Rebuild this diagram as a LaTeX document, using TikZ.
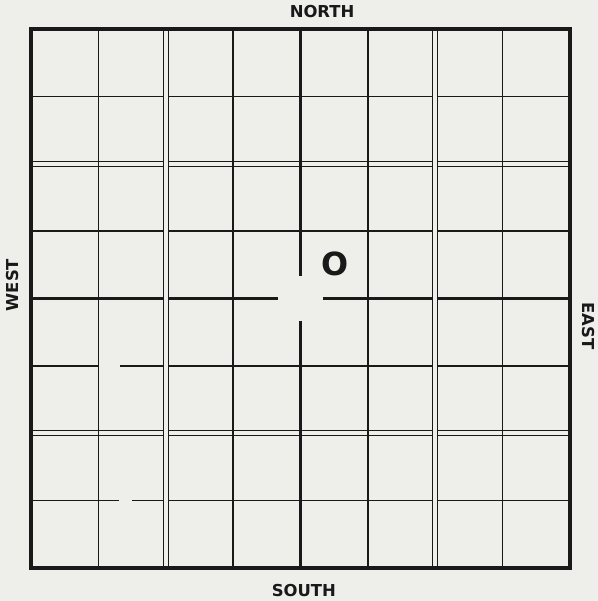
\documentclass[tikz,border=0pt]{standalone}
\usepackage{fontspec}
\newfontfamily\compassfont{DejaVu Sans}
\usepackage{tikz}
\definecolor{paper}{RGB}{238,238,235}
\definecolor{ink}{RGB}{25,25,25}

\begin{document}
\begin{tikzpicture}[x=67.4bp,y=67.4bp,
  grid/.style={ink, line width=1.35pt},
  heavy/.style={ink, line width=2.6pt},
  rim/.style={ink, line width=3.8pt},
  compass/.style={font=\compassfont\bfseries\fontsize{16.5}{18}\selectfont,
    text=ink, inner sep=0pt}]
\def\dd{0.037}
\def\gap{0.34}
% paper and margins
\fill[paper] (-0.46,-0.49) rectangle (8.415,8.43);
\useasboundingbox (-0.46,-0.49) rectangle (8.415,8.43);
%
% horizontal lines, two of them broken near the west edge
\draw[grid] (0,7) -- (8,7);
\draw[grid] (0,5) -- (8,5);
\draw[grid] (0,3) -- (1,3) (1.32,3) -- (8,3);
\draw[grid] (0,1) -- (1.31,1) (1.50,1) -- (8,1);
\foreach \y in {2,6}
  \draw[grid] (0,\y+\dd) -- (8,\y+\dd) (0,\y-\dd) -- (8,\y-\dd);
\draw[heavy] (0,4) -- (4-\gap,4) (4+\gap,4) -- (8,4);
%
% vertical lines, the double ones cut the horizontals
\foreach \x in {2,6}
  \fill[paper] (\x-\dd,0) rectangle (\x+\dd,8);
\foreach \x in {1,3,5,7}
  \draw[grid] (\x,0) -- (\x,8);
\foreach \x in {2,6}
  \draw[grid] (\x-\dd,0) -- (\x-\dd,8) (\x+\dd,0) -- (\x+\dd,8);
\draw[heavy] (4,8) -- (4,4+\gap) (4,4-\gap) -- (4,0);
%
\draw[rim] (0,0) rectangle (8,8);
%
\node[font=\compassfont\bfseries\fontsize{32}{34}\selectfont, text=ink,
  inner sep=0pt] (mark) at (4.51,4.51) {O};
\node[compass] (north) at (4.32,8.26) {NORTH};
\node[compass] (south) at (4.05,-0.34) {SOUTH};
\node[compass, rotate=90] (west) at (-0.28,4.2) {WEST};
\node[compass, rotate=-90] (east) at (8.28,3.59) {EAST};
\end{tikzpicture}
\end{document}
